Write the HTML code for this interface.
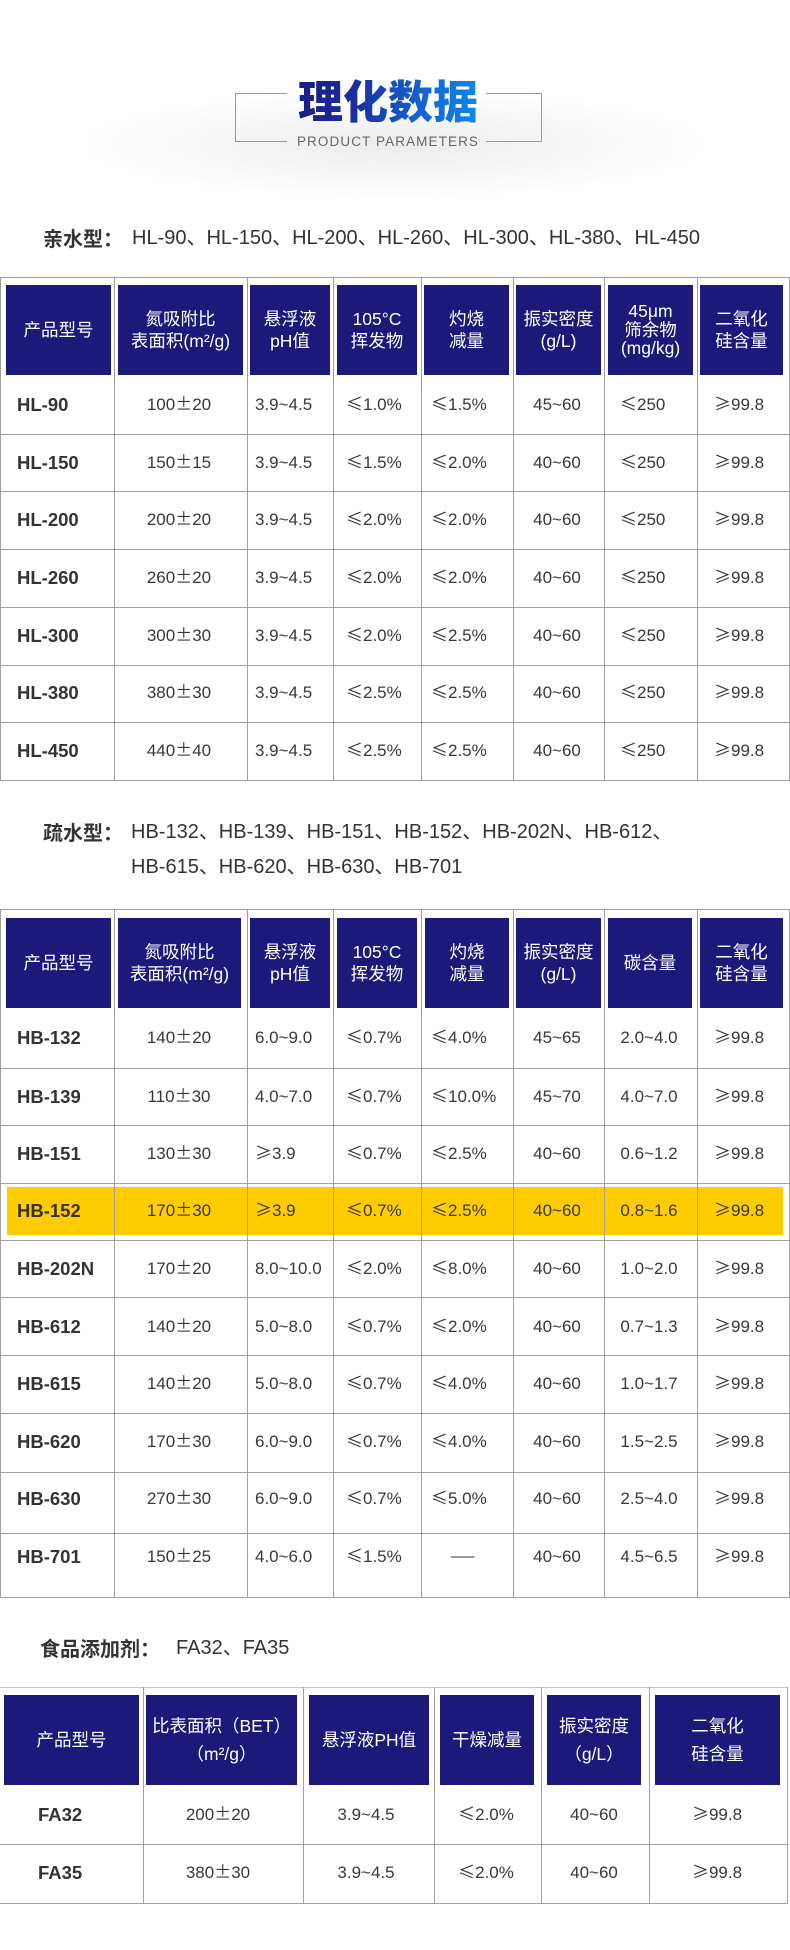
<!DOCTYPE html>
<html>
<head>
<meta charset="utf-8">
<style>
*{margin:0;padding:0;box-sizing:border-box}
html,body{width:790px;height:1950px;background:#fff;overflow:hidden}
body{position:relative;font-family:"Liberation Sans","Noto Sans CJK SC",sans-serif;color:#333}
.glow{position:absolute;left:80px;top:95px;width:630px;height:110px;background:radial-gradient(ellipse 50% 50% at 50% 45%,#ececee 0%,#f4f4f5 45%,rgba(255,255,255,0) 100%)}
.title{position:absolute;left:288px;top:74px;width:200px;text-align:center;font-family:"Noto Sans CJK SC",sans-serif;font-size:45px;line-height:50px;font-weight:900;background:linear-gradient(90deg,#1b1b82 0%,#1b2a98 30%,#1660d0 65%,#0b8ef4 100%);-webkit-background-clip:text;background-clip:text;color:transparent;white-space:nowrap}
.sub{position:absolute;left:290px;top:134px;width:196px;text-align:center;font-size:13.5px;line-height:16px;letter-spacing:1.1px;color:#666;white-space:nowrap}
.bl{position:absolute;background:#9a9a9a}
.hd{position:absolute;font-size:20px;line-height:28px;white-space:nowrap;color:#333}
.hd b{font-family:"Noto Sans CJK SC",sans-serif;font-weight:bold}
.lh{position:absolute;height:1px;background:#a0a0a0}
.lv{position:absolute;width:1px;background:#a0a0a0}
.hb{position:absolute;background:#1b1a7a;color:#fff;display:flex;flex-direction:column;align-items:center;justify-content:center;text-align:center;font-size:17.5px}
.hb div{height:22px;line-height:22px;white-space:nowrap}
.hb.t3 div{height:18.5px;line-height:18.5px}
.hb.w div{height:28px;line-height:28px}
.r{position:absolute;left:0;width:790px;height:20px;line-height:20px;font-size:17px;color:#383838}
.r>span{position:absolute;top:0;white-space:nowrap}
i{font-style:normal;font-family:"Noto Sans CJK SC",sans-serif;line-height:1px}
.a{left:17px;font-weight:bold;font-size:18.5px;color:#333}
.b{left:119px;width:120px;text-align:center}
.c{left:255px}
.d{left:346px}
.e{left:431px}
.f{left:497px;width:120px;text-align:center}
.g{left:620px}
.g2{left:589px;width:120px;text-align:center}
.h{left:714px}
.a3{left:38px;font-weight:bold;font-size:18.5px;color:#333}
.b3{left:158px;width:120px;text-align:center}
.c3{left:306px;width:120px;text-align:center}
.d3{left:426px;width:120px;text-align:center}
.e3{left:534px;width:120px;text-align:center}
.f3{left:657px;width:120px;text-align:center}
.yl{position:absolute;left:7px;top:1187px;width:776px;height:48px;background:#ffcc00}
</style>
</head>
<body>
<div class="glow"></div>
<!-- brackets -->
<div class="bl" style="left:235px;top:93px;width:52px;height:1px"></div>
<div class="bl" style="left:235px;top:93px;width:1px;height:49px"></div>
<div class="bl" style="left:235px;top:141px;width:52px;height:1px"></div>
<div class="bl" style="left:486px;top:93px;width:56px;height:1px"></div>
<div class="bl" style="left:541px;top:93px;width:1px;height:49px"></div>
<div class="bl" style="left:486px;top:141px;width:56px;height:1px"></div>
<div class="title">理化数据</div>
<div class="sub">PRODUCT PARAMETERS</div>

<!-- heading 1 -->
<div class="hd" style="left:43px;top:224px"><b>亲水型：</b></div>
<div class="hd" style="left:132px;top:224px">HL-90、HL-150、HL-200、HL-260、HL-300、HL-380、HL-450</div>

<!-- table 1 lines -->
<div class="lh" style="left:0;top:277px;width:790px"></div>
<div class="lh" style="left:0;top:434px;width:790px"></div>
<div class="lh" style="left:0;top:491px;width:790px"></div>
<div class="lh" style="left:0;top:549px;width:790px"></div>
<div class="lh" style="left:0;top:607px;width:790px"></div>
<div class="lh" style="left:0;top:665px;width:790px"></div>
<div class="lh" style="left:0;top:722px;width:790px"></div>
<div class="lh" style="left:0;top:780px;width:790px"></div>
<div class="lv" style="left:0;top:277px;height:504px"></div>
<div class="lv" style="left:114px;top:277px;height:504px"></div>
<div class="lv" style="left:247px;top:277px;height:504px"></div>
<div class="lv" style="left:333px;top:277px;height:504px"></div>
<div class="lv" style="left:421px;top:277px;height:504px"></div>
<div class="lv" style="left:513px;top:277px;height:504px"></div>
<div class="lv" style="left:604px;top:277px;height:504px"></div>
<div class="lv" style="left:697px;top:277px;height:504px"></div>
<div class="lv" style="left:789px;top:277px;height:504px"></div>

<!-- table 1 header -->
<div class="hb" style="left:6px;top:285px;width:105px;height:90px"><div>产品型号</div></div>
<div class="hb" style="left:118px;top:285px;width:125px;height:90px"><div>氮吸附比</div><div>表面积(m²/g)</div></div>
<div class="hb" style="left:250px;top:285px;width:80px;height:90px"><div>悬浮液</div><div>pH值</div></div>
<div class="hb" style="left:337px;top:285px;width:80px;height:90px"><div>105°C</div><div>挥发物</div></div>
<div class="hb" style="left:424px;top:285px;width:85px;height:90px"><div>灼烧</div><div>减量</div></div>
<div class="hb" style="left:516px;top:285px;width:85px;height:90px"><div>振实密度</div><div>(g/L)</div></div>
<div class="hb t3" style="left:608px;top:285px;width:85px;height:90px"><div>45μm</div><div>筛余物</div><div>(mg/kg)</div></div>
<div class="hb" style="left:700px;top:285px;width:83px;height:90px"><div>二氧化</div><div>硅含量</div></div>

<!-- table 1 rows -->
<div class="r" style="top:395px"><span class="a">HL-90</span><span class="b">100<i>±</i>20</span><span class="c">3.9~4.5</span><span class="d"><i>≤</i>1.0%</span><span class="e"><i>≤</i>1.5%</span><span class="f">45~60</span><span class="g"><i>≤</i>250</span><span class="h"><i>≥</i>99.8</span></div>
<div class="r" style="top:453px"><span class="a">HL-150</span><span class="b">150<i>±</i>15</span><span class="c">3.9~4.5</span><span class="d"><i>≤</i>1.5%</span><span class="e"><i>≤</i>2.0%</span><span class="f">40~60</span><span class="g"><i>≤</i>250</span><span class="h"><i>≥</i>99.8</span></div>
<div class="r" style="top:510px"><span class="a">HL-200</span><span class="b">200<i>±</i>20</span><span class="c">3.9~4.5</span><span class="d"><i>≤</i>2.0%</span><span class="e"><i>≤</i>2.0%</span><span class="f">40~60</span><span class="g"><i>≤</i>250</span><span class="h"><i>≥</i>99.8</span></div>
<div class="r" style="top:568px"><span class="a">HL-260</span><span class="b">260<i>±</i>20</span><span class="c">3.9~4.5</span><span class="d"><i>≤</i>2.0%</span><span class="e"><i>≤</i>2.0%</span><span class="f">40~60</span><span class="g"><i>≤</i>250</span><span class="h"><i>≥</i>99.8</span></div>
<div class="r" style="top:626px"><span class="a">HL-300</span><span class="b">300<i>±</i>30</span><span class="c">3.9~4.5</span><span class="d"><i>≤</i>2.0%</span><span class="e"><i>≤</i>2.5%</span><span class="f">40~60</span><span class="g"><i>≤</i>250</span><span class="h"><i>≥</i>99.8</span></div>
<div class="r" style="top:683px"><span class="a">HL-380</span><span class="b">380<i>±</i>30</span><span class="c">3.9~4.5</span><span class="d"><i>≤</i>2.5%</span><span class="e"><i>≤</i>2.5%</span><span class="f">40~60</span><span class="g"><i>≤</i>250</span><span class="h"><i>≥</i>99.8</span></div>
<div class="r" style="top:741px"><span class="a">HL-450</span><span class="b">440<i>±</i>40</span><span class="c">3.9~4.5</span><span class="d"><i>≤</i>2.5%</span><span class="e"><i>≤</i>2.5%</span><span class="f">40~60</span><span class="g"><i>≤</i>250</span><span class="h"><i>≥</i>99.8</span></div>

<!-- heading 2 -->
<div class="hd" style="left:43px;top:818px"><b>疏水型：</b></div>
<div class="hd" style="left:131px;top:818px">HB-132、HB-139、HB-151、HB-152、HB-202N、HB-612、</div>
<div class="hd" style="left:131px;top:853px">HB-615、HB-620、HB-630、HB-701</div>

<!-- table 2 highlight -->
<div class="yl"></div>

<!-- table 2 lines -->
<div class="lh" style="left:0;top:909px;width:790px"></div>
<div class="lh" style="left:0;top:1068px;width:790px"></div>
<div class="lh" style="left:0;top:1125px;width:790px"></div>
<div class="lh" style="left:0;top:1183px;width:790px"></div>
<div class="lh" style="left:0;top:1240px;width:790px"></div>
<div class="lh" style="left:0;top:1297px;width:790px"></div>
<div class="lh" style="left:0;top:1355px;width:790px"></div>
<div class="lh" style="left:0;top:1413px;width:790px"></div>
<div class="lh" style="left:0;top:1472px;width:790px"></div>
<div class="lh" style="left:0;top:1533px;width:790px"></div>
<div class="lh" style="left:0;top:1597px;width:790px"></div>
<div class="lv" style="left:0;top:909px;height:689px"></div>
<div class="lv" style="left:114px;top:909px;height:689px"></div>
<div class="lv" style="left:247px;top:909px;height:689px"></div>
<div class="lv" style="left:333px;top:909px;height:689px"></div>
<div class="lv" style="left:421px;top:909px;height:689px"></div>
<div class="lv" style="left:513px;top:909px;height:689px"></div>
<div class="lv" style="left:604px;top:909px;height:689px"></div>
<div class="lv" style="left:697px;top:909px;height:689px"></div>
<div class="lv" style="left:789px;top:909px;height:689px"></div>

<!-- table 2 header -->
<div class="hb" style="left:6px;top:918px;width:105px;height:90px"><div>产品型号</div></div>
<div class="hb" style="left:118px;top:918px;width:123px;height:90px"><div>氮吸附比</div><div>表面积(m²/g)</div></div>
<div class="hb" style="left:250px;top:918px;width:80px;height:90px"><div>悬浮液</div><div>pH值</div></div>
<div class="hb" style="left:337px;top:918px;width:80px;height:90px"><div>105°C</div><div>挥发物</div></div>
<div class="hb" style="left:425px;top:918px;width:84px;height:90px"><div>灼烧</div><div>减量</div></div>
<div class="hb" style="left:516px;top:918px;width:85px;height:90px"><div>振实密度</div><div>(g/L)</div></div>
<div class="hb" style="left:608px;top:918px;width:84px;height:90px"><div>碳含量</div></div>
<div class="hb" style="left:700px;top:918px;width:83px;height:90px"><div>二氧化</div><div>硅含量</div></div>

<!-- table 2 rows -->
<div class="r" style="top:1028px"><span class="a">HB-132</span><span class="b">140<i>±</i>20</span><span class="c">6.0~9.0</span><span class="d"><i>≤</i>0.7%</span><span class="e"><i>≤</i>4.0%</span><span class="f">45~65</span><span class="g2">2.0~4.0</span><span class="h"><i>≥</i>99.8</span></div>
<div class="r" style="top:1087px"><span class="a">HB-139</span><span class="b">110<i>±</i>30</span><span class="c">4.0~7.0</span><span class="d"><i>≤</i>0.7%</span><span class="e"><i>≤</i>10.0%</span><span class="f">45~70</span><span class="g2">4.0~7.0</span><span class="h"><i>≥</i>99.8</span></div>
<div class="r" style="top:1144px"><span class="a">HB-151</span><span class="b">130<i>±</i>30</span><span class="c"><i>≥</i>3.9</span><span class="d"><i>≤</i>0.7%</span><span class="e"><i>≤</i>2.5%</span><span class="f">40~60</span><span class="g2">0.6~1.2</span><span class="h"><i>≥</i>99.8</span></div>
<div class="r" style="top:1201px"><span class="a">HB-152</span><span class="b">170<i>±</i>30</span><span class="c"><i>≥</i>3.9</span><span class="d"><i>≤</i>0.7%</span><span class="e"><i>≤</i>2.5%</span><span class="f">40~60</span><span class="g2">0.8~1.6</span><span class="h"><i>≥</i>99.8</span></div>
<div class="r" style="top:1259px"><span class="a">HB-202N</span><span class="b">170<i>±</i>20</span><span class="c">8.0~10.0</span><span class="d"><i>≤</i>2.0%</span><span class="e"><i>≤</i>8.0%</span><span class="f">40~60</span><span class="g2">1.0~2.0</span><span class="h"><i>≥</i>99.8</span></div>
<div class="r" style="top:1317px"><span class="a">HB-612</span><span class="b">140<i>±</i>20</span><span class="c">5.0~8.0</span><span class="d"><i>≤</i>0.7%</span><span class="e"><i>≤</i>2.0%</span><span class="f">40~60</span><span class="g2">0.7~1.3</span><span class="h"><i>≥</i>99.8</span></div>
<div class="r" style="top:1374px"><span class="a">HB-615</span><span class="b">140<i>±</i>20</span><span class="c">5.0~8.0</span><span class="d"><i>≤</i>0.7%</span><span class="e"><i>≤</i>4.0%</span><span class="f">40~60</span><span class="g2">1.0~1.7</span><span class="h"><i>≥</i>99.8</span></div>
<div class="r" style="top:1432px"><span class="a">HB-620</span><span class="b">170<i>±</i>30</span><span class="c">6.0~9.0</span><span class="d"><i>≤</i>0.7%</span><span class="e"><i>≤</i>4.0%</span><span class="f">40~60</span><span class="g2">1.5~2.5</span><span class="h"><i>≥</i>99.8</span></div>
<div class="r" style="top:1489px"><span class="a">HB-630</span><span class="b">270<i>±</i>30</span><span class="c">6.0~9.0</span><span class="d"><i>≤</i>0.7%</span><span class="e"><i>≤</i>5.0%</span><span class="f">40~60</span><span class="g2">2.5~4.0</span><span class="h"><i>≥</i>99.8</span></div>
<div class="r" style="top:1547px"><span class="a">HB-701</span><span class="b">150<i>±</i>25</span><span class="c">4.0~6.0</span><span class="d"><i>≤</i>1.5%</span><span class="e" style="left:450px;font-size:15px"><i>——</i></span><span class="f">40~60</span><span class="g2">4.5~6.5</span><span class="h"><i>≥</i>99.8</span></div>

<!-- heading 3 -->
<div class="hd" style="left:40px;top:1634px"><b>食品添加剂：</b></div>
<div class="hd" style="left:176px;top:1634px">FA32、FA35</div>

<!-- table 3 lines -->
<div class="lh" style="left:0;top:1687px;width:788px;background:#c8c8c8"></div>
<div class="lh" style="left:0;top:1844px;width:788px"></div>
<div class="lh" style="left:0;top:1903px;width:788px"></div>
<div class="lv" style="left:143px;top:1687px;height:217px"></div>
<div class="lv" style="left:303px;top:1687px;height:217px"></div>
<div class="lv" style="left:434px;top:1687px;height:217px"></div>
<div class="lv" style="left:541px;top:1687px;height:217px"></div>
<div class="lv" style="left:649px;top:1687px;height:217px"></div>
<div class="lv" style="left:787px;top:1687px;height:217px"></div>

<!-- table 3 header -->
<div class="hb" style="left:4px;top:1695px;width:135px;height:90px"><div>产品型号</div></div>
<div class="hb w" style="left:146px;top:1695px;width:151px;height:90px"><div>比表面积（BET）</div><div>（m²/g）</div></div>
<div class="hb" style="left:309px;top:1695px;width:120px;height:90px"><div>悬浮液PH值</div></div>
<div class="hb" style="left:440px;top:1695px;width:94px;height:90px"><div>干燥减量</div></div>
<div class="hb w" style="left:547px;top:1695px;width:94px;height:90px"><div>振实密度</div><div>（g/L）</div></div>
<div class="hb w" style="left:655px;top:1695px;width:125px;height:90px"><div>二氧化</div><div>硅含量</div></div>

<!-- table 3 rows -->
<div class="r" style="top:1805px"><span class="a3">FA32</span><span class="b3">200<i>±</i>20</span><span class="c3">3.9~4.5</span><span class="d3"><i>≤</i>2.0%</span><span class="e3">40~60</span><span class="f3"><i>≥</i>99.8</span></div>
<div class="r" style="top:1863px"><span class="a3">FA35</span><span class="b3">380<i>±</i>30</span><span class="c3">3.9~4.5</span><span class="d3"><i>≤</i>2.0%</span><span class="e3">40~60</span><span class="f3"><i>≥</i>99.8</span></div>
</body>
</html>
